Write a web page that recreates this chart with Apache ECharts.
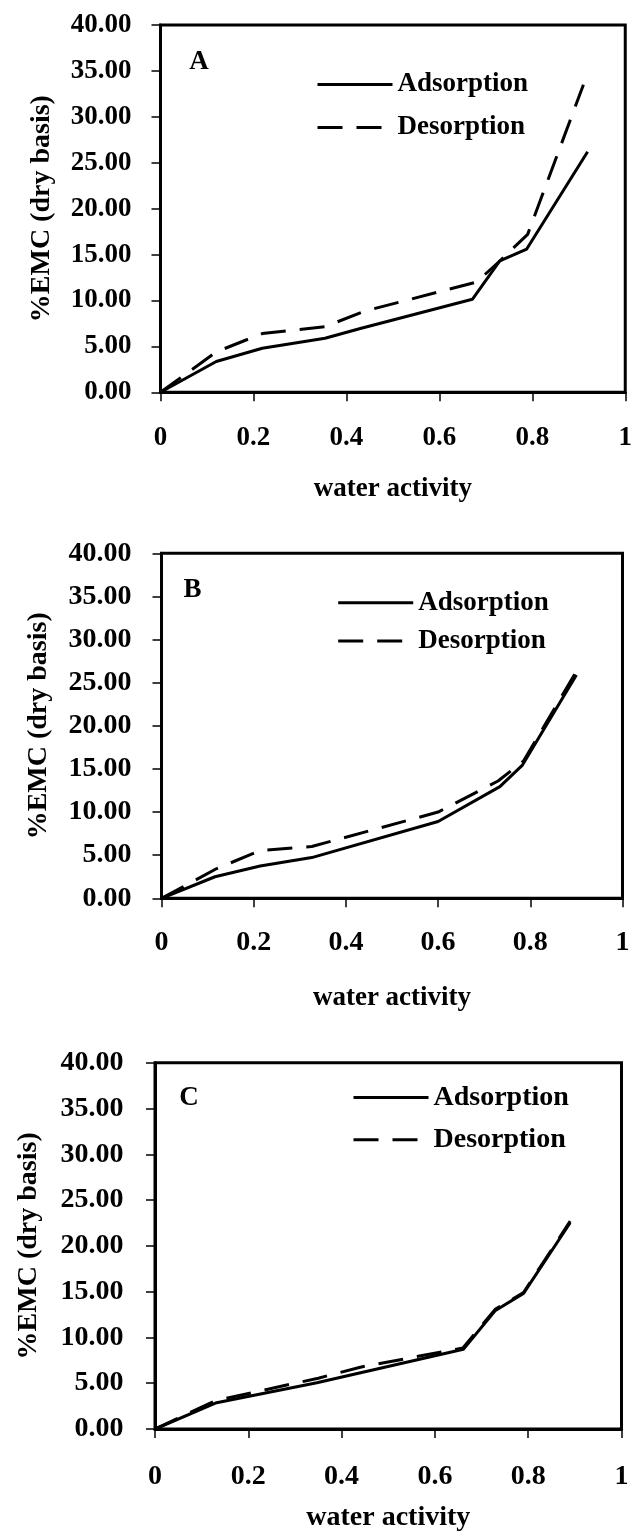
<!DOCTYPE html>
<html>
<head>
<meta charset="utf-8">
<script src="https://cdn.jsdelivr.net/npm/echarts@6/dist/echarts.min.js"></script>
<style>
  html, body { margin: 0; padding: 0; background: #fff; }
  #chart { width: 635px; height: 1533px; }
</style>
</head>
<body>
<div id="chart"></div>
<script>
// Moisture sorption isotherms: equilibrium moisture content vs water activity
const seriesNames = ['Adsorption', 'Desorption'];
const panelLetters = ['A', 'B', 'C'];
const xTicks = [0, 0.2, 0.4, 0.6, 0.8, 1];
const yTicks = [0, 5, 10, 15, 20, 25, 30, 35, 40];

// Panel A
const awAAds = [0, 0.12, 0.219, 0.354, 0.43, 0.671, 0.73, 0.788, 0.919];
const emcAAds = [0, 3.35, 4.8, 5.88, 6.95, 10.13, 14.3, 15.6, 26.2];
const awADes = [0, 0.12, 0.219, 0.354, 0.44, 0.68, 0.73, 0.79, 0.91];
const emcADes = [0, 4.4, 6.4, 7.15, 8.85, 12.0, 14.3, 17.2, 33.5];

// Panel B
const awBAds = [0, 0.116, 0.214, 0.326, 0.6, 0.734, 0.783, 0.9];
const emcBAds = [0, 2.5, 3.75, 4.72, 8.9, 12.95, 15.45, 25.9];
const awBDes = [0, 0.12, 0.215, 0.326, 0.6, 0.73, 0.785, 0.9];
const emcBDes = [0, 3.45, 5.55, 6.0, 10.0, 13.6, 15.9, 26.3];

// Panel C
const awCAds = [0, 0.132, 0.347, 0.661, 0.729, 0.79, 0.89];
const emcCAds = [0, 2.87, 5.05, 8.7, 12.92, 14.81, 22.52];
const awCDes = [0, 0.13, 0.35, 0.44, 0.66, 0.73, 0.79, 0.89];
const emcCDes = [0, 3.1, 5.55, 6.75, 8.85, 13.1, 14.9, 22.7];

const zip = (xs, ys) => xs.map((x, i) => [x, ys[i]]);

const FONT = '"Liberation Serif", "Times New Roman", serif';

// Layout of the three stacked panels
const panels = [
  { left: 160.5, width: 469, top: 25, height: 367.3, fs: 27, ticksFs: 27,
    xNameGap: 83, yNameGap: 105, yMargin: 29, xMargin: 32,
    legendLeft: 316, legendTop: 71, legendGap: 16,
    letterX: 199, letterY: 62,
    ads: zip(awAAds, emcAAds), des: zip(awADes, emcADes) },
  { left: 161.5, width: 461, top: 553.3, height: 345, fs: 27, ticksFs: 28,
    xNameGap: 86, yNameGap: 109, yMargin: 30, xMargin: 30,
    legendLeft: 336.7, legendTop: 589.2, legendGap: 11.3,
    letterX: 192.5, letterY: 590,
    ads: zip(awBAds, emcBAds), des: zip(awBDes, emcBDes) },
  { left: 155, width: 466.5, top: 1062.7, height: 366.3, fs: 28, ticksFs: 28,
    xNameGap: 75, yNameGap: 112, yMargin: 31.5, xMargin: 34,
    legendLeft: 352, legendTop: 1083.5, legendGap: 14.3,
    letterX: 189, letterY: 1098,
    ads: zip(awCAds, emcCAds), des: zip(awCDes, emcCDes) }
];

const grid = [], xAxis = [], yAxis = [], series = [], legend = [], graphic = [];

panels.forEach((p, i) => {
  grid.push({
    left: p.left, top: p.top, width: p.width, height: p.height,
    show: true, borderColor: '#000', borderWidth: 3, backgroundColor: '#fff'
  });
  xAxis.push({
    type: 'value', gridIndex: i, min: xTicks[0], max: xTicks[xTicks.length - 1],
    interval: xTicks[1] - xTicks[0],
    name: 'water activity', nameLocation: 'middle', nameGap: p.xNameGap,
    nameTextStyle: { fontFamily: FONT, fontWeight: 'bold', fontSize: p.fs, color: '#000' },
    axisLine: { show: true, onZero: false, lineStyle: { color: '#000', width: 3 } },
    axisTick: { show: true, length: 9, lineStyle: { color: '#000', width: 1.5 } },
    axisLabel: { fontFamily: FONT, fontWeight: 'bold', fontSize: p.ticksFs, color: '#000',
                 margin: p.xMargin, formatter: v => String(+v.toFixed(1)) },
    splitLine: { show: false }
  });
  yAxis.push({
    type: 'value', gridIndex: i, min: yTicks[0], max: yTicks[yTicks.length - 1],
    interval: yTicks[1] - yTicks[0],
    name: '%EMC (dry basis)', nameLocation: 'middle', nameGap: p.yNameGap,
    nameTextStyle: { fontFamily: FONT, fontWeight: 'bold', fontSize: 28, color: '#000' },
    axisLine: { show: true, onZero: false, lineStyle: { color: '#000', width: 3 } },
    axisTick: { show: true, length: 9, lineStyle: { color: '#000', width: 1.5 } },
    axisLabel: { fontFamily: FONT, fontWeight: 'bold', fontSize: p.ticksFs, color: '#000',
                 margin: p.yMargin, formatter: v => v.toFixed(2) },
    splitLine: { show: false }
  });
  series.push({
    name: seriesNames[0], type: 'line', xAxisIndex: i, yAxisIndex: i,
    data: p.ads, showSymbol: false, symbol: 'none', animation: false,
    lineStyle: { color: '#000', width: 3, type: 'solid' },
    itemStyle: { color: '#000' }, z: 3
  });
  series.push({
    name: seriesNames[1], type: 'line', xAxisIndex: i, yAxisIndex: i,
    data: p.des, showSymbol: false, symbol: 'none', animation: false,
    lineStyle: { color: '#000', width: 3, type: [25, 14] },
    itemStyle: { color: '#000' }, z: 4
  });
  legend.push({
    data: seriesNames, orient: 'vertical', left: p.legendLeft, top: p.legendTop,
    padding: 0, itemGap: p.legendGap, itemWidth: 75, itemHeight: 14,
    selectedMode: false,
    // line samples only, no marker on them
    itemStyle: { opacity: 0, borderWidth: 0 },
    lineStyle: { width: 3 },
    textStyle: { fontFamily: FONT, fontWeight: 'bold', fontSize: p.fs, color: '#000', lineHeight: 27 }
  });
  graphic.push({
    type: 'text', x: p.letterX, y: p.letterY, z: 10,
    style: { text: panelLetters[i], fontFamily: FONT, fontWeight: 'bold',
             fontSize: 27, fill: '#000', align: 'center', verticalAlign: 'middle' }
  });
});

const chart = echarts.init(document.getElementById('chart'), null, { renderer: 'canvas' });
chart.setOption({
  backgroundColor: '#fff',
  animation: false,
  grid, xAxis, yAxis, series, legend, graphic
});
</script>
</body>
</html>
